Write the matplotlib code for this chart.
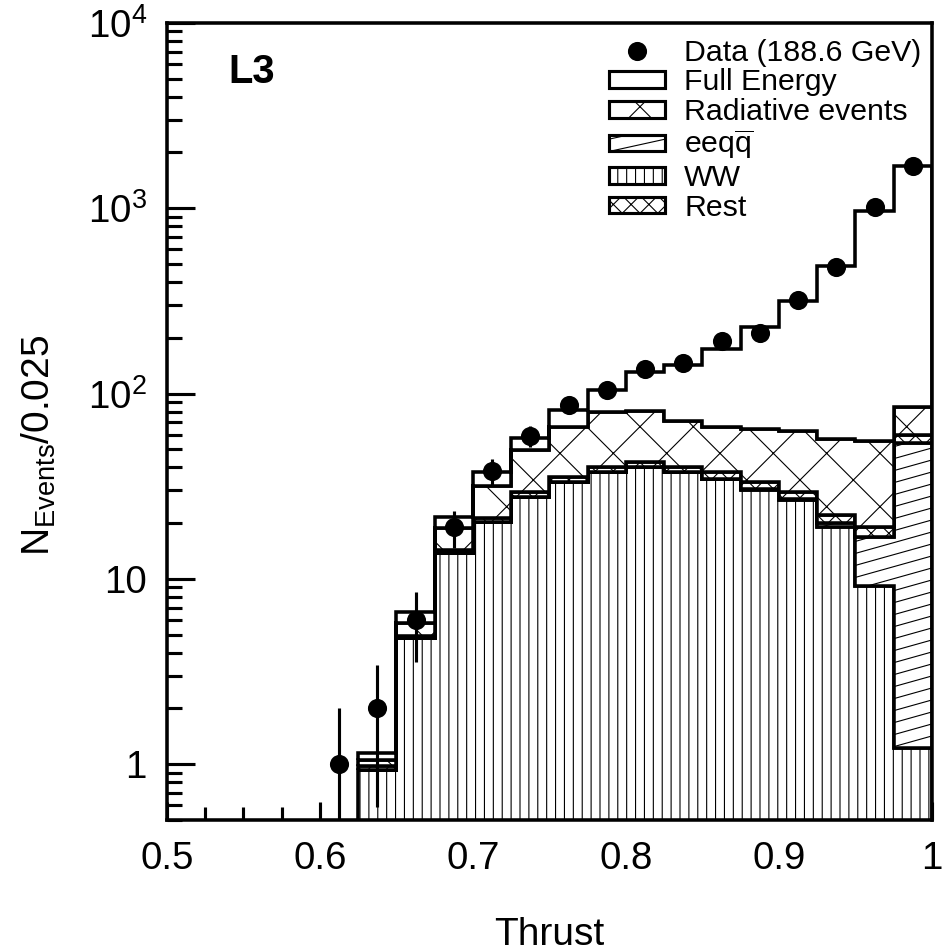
import numpy as np
import matplotlib
matplotlib.use("Agg")
import matplotlib.pyplot as plt
import matplotlib.ticker as mticker
from matplotlib.patches import Patch, Rectangle
from matplotlib.lines import Line2D
from matplotlib.collections import LineCollection
from matplotlib.legend_handler import HandlerBase

plt.rcParams['font.family'] = ['Liberation Sans', 'DejaVu Sans']
plt.rcParams['mathtext.fontset'] = 'custom'
plt.rcParams['mathtext.rm'] = 'Liberation Sans'
plt.rcParams['mathtext.it'] = 'Liberation Sans:italic'
plt.rcParams['mathtext.bf'] = 'Liberation Sans:bold'
plt.rcParams['hatch.linewidth'] = 0.5

# ---------------- data ----------------
bin_edges = [0.625, 0.65, 0.675, 0.70, 0.725, 0.75, 0.775, 0.80,
             0.825, 0.85, 0.875, 0.90, 0.925, 0.95, 0.975, 1.0]

ww_mc = [0.93, 4.8, 13.8, 20.3, 27.8, 33.4, 37.9, 39.9, 37.5, 34.8,
         30.2, 26.7, 19.1, 9.2, 1.22]
eeqq_mc = [0.0, 0.0, 0.0, 0.0, 0.0, 0.0, 0.0, 0.0, 0.0, 0.0,
           0.3, 0.4, 0.8, 7.7, 53.1]
rest_mc = [0.05, 0.1, 0.5, 1.1, 1.7, 2.2, 2.3, 2.9, 2.5, 3.1,
           2.9, 2.4, 2.3, 2.2, 5.7]
radiative_mc = [0.07, 0.9, 4.6, 10.4, 19.8, 30.0, 39.8, 38.2, 30.7, 27.7,
                30.6, 33.0, 34.9, 36.6, 25.0]
full_energy_mc = [0.10, 0.83, 2.7, 6.1, 8.5, 16.4, 25.0, 49.0, 72.3, 107.4,
                  166.0, 251.5, 429.0, 908.0, 1605.0]

data_x = [0.6125, 0.6375, 0.6625, 0.6875, 0.7125, 0.7375, 0.7625, 0.7875,
          0.8125, 0.8375, 0.8625, 0.8875, 0.9125, 0.9375, 0.9625, 0.9875]
data_y = [1, 2, 6, 19, 38, 59, 87, 105, 135, 147, 193, 211, 318, 480, 1012, 1687]

legend_labels = ['Data (188.6 GeV)', 'Full Energy', 'Radiative events',
                 r'eeq$\mathregular{\overline{q}}$', 'WW', 'Rest']

x_ticks = [0.5, 0.6, 0.7, 0.8, 0.9, 1.0]
x_ticklabels = ['0.5', '0.6', '0.7', '0.8', '0.9', '1']
y_ticks = [1, 10, 100, 1000, 10000]
y_ticklabels = ['1', '10', r'$\mathregular{10^{2}}$', r'$\mathregular{10^{3}}$',
                r'$\mathregular{10^{4}}$']

# ---------------- figure ----------------
DPI = 160
fig = plt.figure(figsize=(945 / DPI, 952 / DPI), dpi=DPI)
AX_RECT = [0.1767, 0.1387, 0.8095, 0.8372]
ax = fig.add_axes(AX_RECT)
ax.set_yscale('log')
ax.set_xlim(0.5, 1.0)
ax.set_ylim(0.5, 1e4)

EDGE_LW = 1.6
SLOPE_PIX = 0.28     # slope of the eeqq hatch lines (pixel rise / pixel run)
SPACING_PIX = 12.0   # vertical spacing of eeqq hatch lines in pixels


def shallow_lines(x0, y0, w, h, spacing, slope):
    segs = []
    y = y0 - slope * w - spacing
    while y < y0 + h + spacing:
        segs.append([(x0, y), (x0 + w, y + slope * w)])
        y += spacing
    return segs


layers = [(ww_mc, '|||'), (eeqq_mc, 'eeqq'), (rest_mc, 'xxx'),
          (radiative_mc, 'x'), (full_energy_mc, None)]

bottom = np.full(len(ww_mc), 1e-3)
eeqq_patch = None
for vals, hatch in layers:
    top = bottom + np.asarray(vals)
    h = None if hatch in (None, 'eeqq') else hatch
    p = ax.stairs(top, bin_edges, baseline=bottom, fill=True,
                  facecolor='white', edgecolor='black', lw=EDGE_LW,
                  hatch=h, zorder=2)
    if hatch == 'eeqq':
        eeqq_patch = p
    bottom = top

# shallow diagonal hatch for eeqq, clipped to its patch
ax_w_px = AX_RECT[2] * 945
ax_h_px = AX_RECT[3] * 952
segs = shallow_lines(0.0, 0.0, 1.0, 1.0, SPACING_PIX / ax_h_px,
                     SLOPE_PIX * ax_w_px / ax_h_px)
lc = LineCollection(segs, colors='black', linewidths=0.5,
                    transform=ax.transAxes, zorder=2.5)
lc.set_clip_path(eeqq_patch)
ax.add_collection(lc)

# data points
dy = np.sqrt(np.asarray(data_y, dtype=float))
dy_low = np.minimum(dy, np.asarray(data_y) - 1e-4)
ax.errorbar(data_x, data_y, yerr=[dy_low, dy], fmt='o', color='black',
            markersize=7.6, elinewidth=1.4, capsize=0, zorder=5)

# axes styling
for s in ax.spines.values():
    s.set_linewidth(1.6)
ax.xaxis.set_major_locator(mticker.FixedLocator(x_ticks))
ax.xaxis.set_major_formatter(mticker.FixedFormatter(x_ticklabels))
ax.xaxis.set_minor_locator(mticker.MultipleLocator(0.025))
ax.yaxis.set_major_locator(mticker.FixedLocator(y_ticks))
ax.yaxis.set_major_formatter(mticker.FixedFormatter(y_ticklabels))
ax.yaxis.set_minor_locator(mticker.LogLocator(base=10, subs=np.arange(2, 10)))
ax.yaxis.set_minor_formatter(mticker.NullFormatter())
ax.tick_params(which='both', direction='in', top=False, right=False,
               width=1.4, labelsize=17.3, zorder=6)
ax.tick_params(axis='x', which='major', length=8.0, pad=9.5)
ax.tick_params(axis='x', which='minor', length=5.9)
ax.tick_params(axis='y', which='major', length=12.6, pad=9.0)
ax.tick_params(axis='y', which='minor', length=6.8)

ax.set_xlabel('Thrust', fontsize=17.5)
ax.xaxis.set_label_coords(0.5, -0.122)
ax.set_ylabel(r'$\mathregular{N_{Events}/0.025}$', fontsize=17.5)
ax.yaxis.set_label_coords(-0.142, 0.47)

ax.text(0.111, 0.9385, 'L3', transform=ax.transAxes, fontsize=18,
        fontweight='bold', ha='center', va='center')


# legend
class EeqqHandler(HandlerBase):
    def create_artists(self, legend, orig_handle, xdescent, ydescent,
                       width, height, fontsize, trans):
        rect = Rectangle((-xdescent, -ydescent), width, height,
                         facecolor='white', edgecolor='black', lw=1.4,
                         transform=trans)
        segs = shallow_lines(-xdescent, -ydescent, width, height,
                             height * 0.75, 0.22)
        lcl = LineCollection(segs, colors='black', linewidths=0.5,
                             transform=trans)
        lcl.set_clip_path(rect)
        return [rect, lcl]


h_data = Line2D([], [], marker='o', color='black', ls='none', markersize=7.6)
h_full = Patch(facecolor='white', edgecolor='black', lw=1.4)
h_rad = Patch(facecolor='white', edgecolor='black', lw=1.4, hatch='x')
h_eeqq = Patch(facecolor='white', edgecolor='black', lw=1.4)
h_ww = Patch(facecolor='white', edgecolor='black', lw=1.4, hatch='|||')
h_rest = Patch(facecolor='white', edgecolor='black', lw=1.4, hatch='xxx')

leg = ax.legend([h_data, h_full, h_rad, h_eeqq, h_ww, h_rest], legend_labels,
                loc='upper right', bbox_to_anchor=(1.007, 1.0),
                frameon=False, fontsize=13.6,
                handlelength=1.85, handleheight=0.46, handletextpad=0.63,
                labelspacing=0.06, borderaxespad=0.42, borderpad=0.1,
                handler_map={h_eeqq: EeqqHandler()})
leg.set_zorder(10)

fig.savefig('out.png', dpi=DPI)
